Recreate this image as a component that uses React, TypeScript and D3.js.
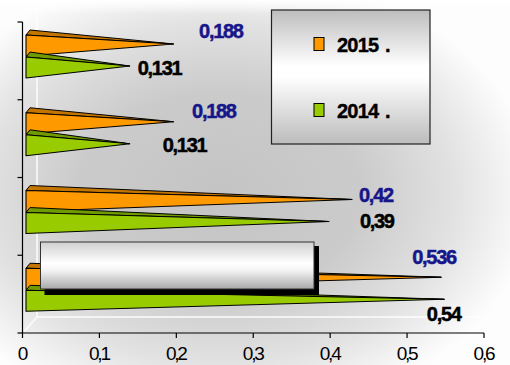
import React from "react";
import * as d3 from "d3";

// ---- data ----
const categories = ["c1", "c2", "c3", "c4"]; // top to bottom
const series = ["2015 .", "2014 ."];
const values2015 = [0.188, 0.188, 0.42, 0.536];
const values2014 = [0.131, 0.131, 0.39, 0.54];
const labels2015 = ["0,188", "0,188", "0,42", "0,536"];
const labels2014 = ["0,131", "0,131", "0,39", "0,54"];
const xTicks = [0, 0.1, 0.2, 0.3, 0.4, 0.5, 0.6];
const xTickLabels = ["0", "0,1", "0,2", "0,3", "0,4", "0,5", "0,6"];

// ---- layout (label nudges relative to bar tips) ----
const nudge2015 = [
  [25.5, -6],
  [18.5, -3.5],
  [7, 2.5],
  [-29, -13],
];
const nudge2014 = [
  [8, 9],
  [33, 8],
  [31, 6.5],
  [-17.5, 22],
];

const FONT = "'Liberation Sans', Arial, sans-serif";

export default function App() {
  const W = 510;
  const H = 365;
  const x = d3.scaleLinear().domain([0, 0.6]).range([22.5, 484]);
  const y = d3.scaleBand<string>().domain(categories).range([22, 333]);
  const inner = d3
    .scaleBand<string>()
    .domain(series)
    .range([13, 56])
    .paddingInner(0.05);

  const depthX = 4;
  const depthY = 5;
  const tipShift = 6.5;
  const baseShift = 3.5;
  const seriesValues = [values2015, values2014];
  const seriesLabels = [labels2015, labels2014];
  const seriesNudges = [nudge2015, nudge2014];
  const fronts = ["#ff9900", "#99cc00"];
  const tops = ["#c47500", "#6f9a00"];
  const labelColors = ["#16168a", "#000000"];

  const bars: React.ReactNode[] = [];
  const texts: React.ReactNode[] = [];
  categories.forEach((c, i) => {
    series.forEach((s, k) => {
      const v = seriesValues[k][i];
      const top = (y(c) as number) + (inner(s) as number);
      const bot = top + inner.bandwidth();
      const x0 = x(0) + baseShift;
      const tx = x(v) + tipShift;
      const ty = (top + bot) / 2 - 1.5;
      bars.push(
        <g key={`b${i}${k}`}>
          <path
            d={`M${x0},${top}L${x0 + depthX},${top - depthY}L${tx},${ty}Z`}
            fill={tops[k]}
            stroke="#000"
            strokeWidth={1}
            strokeLinejoin="round"
          />
          <path
            d={`M${x0},${top}L${tx},${ty}L${x0},${bot}Z`}
            fill={fronts[k]}
            stroke="#000"
            strokeWidth={1.1}
            strokeLinejoin="round"
          />
        </g>
      );
      const [dx, dy] = seriesNudges[k][i];
      texts.push(
        <text
          key={`t${i}${k}`}
          x={tx + dx}
          y={ty + dy}
          fill={labelColors[k]}
          stroke={labelColors[k]}
          strokeWidth={0.5}
          fontFamily={FONT}
          fontWeight="bold"
          fontSize={20}
          letterSpacing={-1.3}
        >
          {seriesLabels[k][i]}
        </text>
      );
    });
  });

  const yTickPos = [...categories.map((c) => y(c) as number), y.range()[1]];
  const axisY = x(0);
  const baseY = y.range()[1];

  // overlay box (text frame) geometry
  const box = { x0: 40.5, y0: 242, x1: 314, y1: 289 };

  return (
    <svg
      width={W}
      height={H}
      style={{ position: "fixed", left: 0, top: 0, display: "block" }}
    >
      <defs>
        <radialGradient id="bg" cx="0.43" cy="0.53" r="0.62">
          <stop offset="0" stopColor="#c4c4c4" />
          <stop offset="0.45" stopColor="#cbcbcb" />
          <stop offset="0.75" stopColor="#e2e2e2" />
          <stop offset="1" stopColor="#fdfdfd" />
        </radialGradient>
        <linearGradient id="topfade" x1="0" y1="0" x2="0" y2="1">
          <stop offset="0" stopColor="#fff" stopOpacity="1" />
          <stop offset="1" stopColor="#fff" stopOpacity="0" />
        </linearGradient>
        <linearGradient id="legendGrad" x1="0" y1="0" x2="0" y2="1">
          <stop offset="0" stopColor="#bdbdbd" />
          <stop offset="0.42" stopColor="#ffffff" />
          <stop offset="0.5" stopColor="#ffffff" />
          <stop offset="1" stopColor="#bcbcbc" />
        </linearGradient>
        <linearGradient id="boxGrad" x1="0" y1="0" x2="0" y2="1">
          <stop offset="0" stopColor="#cfcfcf" />
          <stop offset="0.45" stopColor="#ffffff" />
          <stop offset="0.6" stopColor="#f4f4f4" />
          <stop offset="1" stopColor="#a9a9a9" />
        </linearGradient>
      </defs>

      <rect x={0} y={0} width={W} height={H} fill="#fff" />
      <rect x={0} y={0} width={W} height={H} fill="url(#bg)" />
      <rect x={0} y={0} width={W} height={14} fill="url(#topfade)" />

      {/* 3D walls (white edges) */}
      <g stroke="#ffffff" strokeWidth={1.5} fill="none" opacity={0.95}>
        <line x1={axisY + 14.5} y1={8} x2={axisY + 14.5} y2={baseY - 16} />
        <line x1={axisY + 14.5} y1={baseY - 16} x2={x(0.6) + 12} y2={baseY - 16} />
        <line x1={axisY + 2} y1={baseY - 2} x2={axisY + 14.5} y2={baseY - 16} />
        <line x1={axisY + 1} y1={y.range()[0] - 1} x2={axisY + 14.5} y2={8} />
      </g>

      {/* axes */}
      <g stroke="#000" strokeWidth={1.2} fill="none">
        <line x1={axisY} y1={y.range()[0]} x2={axisY} y2={baseY} />
        {yTickPos.map((p, i) => (
          <line key={`yt${i}`} x1={axisY - 5} y1={p} x2={axisY} y2={p} />
        ))}
        <line x1={axisY} y1={baseY} x2={x(0.6)} y2={baseY} />
        {xTicks.map((t, i) => (
          <line key={`xt${i}`} x1={x(t)} y1={baseY} x2={x(t)} y2={baseY + 5} />
        ))}
      </g>
      <g fontFamily={FONT} fontSize={19} fill="#000" textAnchor="middle" letterSpacing={-2.2}>
        {xTicks.map((t, i) => (
          <text key={`xl${i}`} x={x(t) - 0.5} y={baseY + 27}>
            {xTickLabels[i]}
          </text>
        ))}
      </g>

      {bars}

      {/* overlay frame with shadow */}
      <rect
        x={box.x0 + 4}
        y={box.y0 + 4}
        width={box.x1 - box.x0 + 1}
        height={box.y1 - box.y0 + 2}
        fill="#000"
      />
      <rect
        x={box.x0}
        y={box.y0}
        width={box.x1 - box.x0}
        height={box.y1 - box.y0}
        fill="url(#boxGrad)"
        stroke="#333"
        strokeWidth={1}
      />

      {texts}

      {/* legend */}
      <rect x={271.5} y={10} width={158.5} height={134} fill="url(#legendGrad)" stroke="#222" strokeWidth={1.2} />
      {series.map((s, k) => (
        <g key={`lg${k}`}>
          <rect x={314} y={37.5 + k * 66} width={10} height={13} fill={fronts[k]} stroke="#000" strokeWidth={1} />
          <text
            x={337}
            y={52 + k * 66}
            fontFamily={FONT}
            fontWeight="bold"
            fontSize={20}
            letterSpacing={-0.8}
            wordSpacing={2}
            fill="#000"
            stroke="#000"
            strokeWidth={0.4}
          >
            {s}
          </text>
        </g>
      ))}
    </svg>
  );
}
